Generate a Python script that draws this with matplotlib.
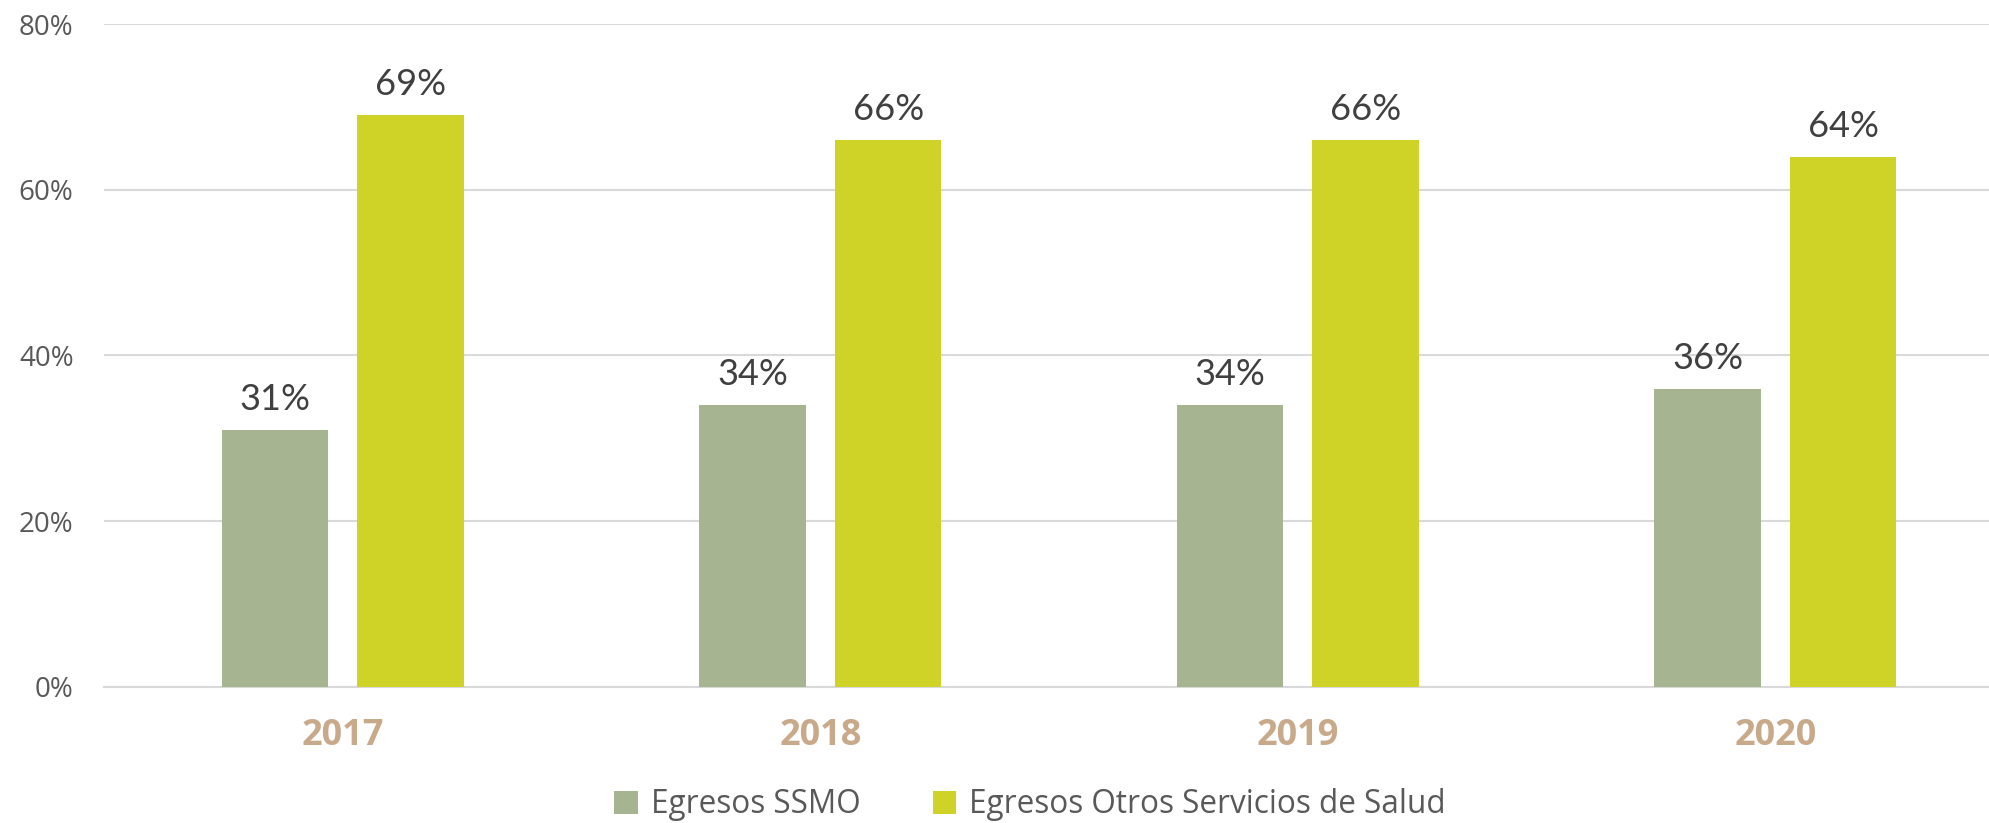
import numpy as np
import matplotlib.pyplot as plt
from matplotlib.ticker import PercentFormatter

# Data
years = ['2017', '2018', '2019', '2020']
ssmo = [0.31, 0.34, 0.34, 0.36]
otros = [0.69, 0.66, 0.66, 0.64]
series_names = ['Egresos SSMO', 'Egresos Otros Servicios de Salud']

col_ssmo = '#A6B491'
col_otros = '#CFD227'

fig = plt.figure(figsize=(19.9, 8.23), dpi=100)
# plot area runs slightly past the right edge, like the original
ax = fig.add_axes([0.0523, 0.1653, 0.9598, 0.8055])

x = np.arange(len(years))
w = 0.2234
off = 0.142
b1 = ax.bar(x - off, ssmo, w, color=col_ssmo, label=series_names[0], zorder=3)
b2 = ax.bar(x + off, otros, w, color=col_otros, label=series_names[1], zorder=3)

# Data labels
for bars, vals in [(b1, ssmo), (b2, otros)]:
    for rect, v in zip(bars, vals):
        ax.annotate(f'{v*100:.0f}%', (rect.get_x() + rect.get_width() / 2, v),
                    xytext=(0, 10), textcoords='offset points',
                    ha='center', va='bottom', fontsize=26,
                    family='Lato', color='#404040')

ax.set_xlim(-0.5, len(years) - 0.5)
ax.set_ylim(0, 0.8)
ax.set_yticks([0, 0.2, 0.4, 0.6, 0.8])
ax.yaxis.set_major_formatter(PercentFormatter(1.0, decimals=0))
ax.grid(axis='y', color='#D9D9D9', linewidth=1.5, zorder=0)
for s in ['top', 'right', 'left']:
    ax.spines[s].set_visible(False)
ax.spines['bottom'].set_color('#D9D9D9')
ax.spines['bottom'].set_linewidth(1.5)

ax.set_xticks(x)
ax.set_xticklabels(years, fontsize=26, fontweight='bold', color='#C8A98A', family='Open Sans')
ax.tick_params(axis='x', length=0, pad=22)
ax.tick_params(axis='y', length=0, pad=22, labelsize=20, labelcolor='#595959')
for lbl in ax.get_yticklabels():
    lbl.set_family('Open Sans')

fig.legend(loc='center', bbox_to_anchor=(0.5176, 0.022), ncol=2, frameon=False,
           prop={'family': 'Open Sans', 'size': 22.7}, labelcolor='#595959',
           handlelength=0.75, handleheight=0.75, handletextpad=0.4, columnspacing=2.3)

fig.savefig('out.png', dpi=100)
